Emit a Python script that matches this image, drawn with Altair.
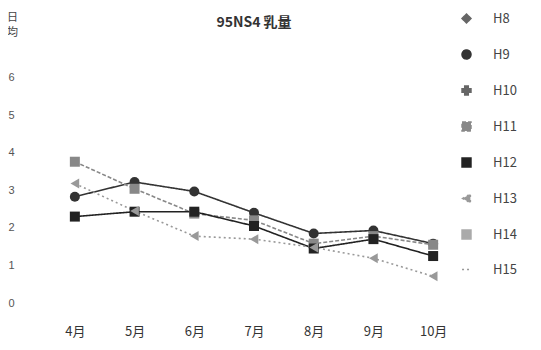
import altair as alt
import pandas as pd

months = ["4月", "5月", "6月", "7月", "8月", "9月", "10月"]
series_names = ["H8", "H9", "H10", "H11", "H12", "H13", "H14", "H15"]
h9 = [2.83, 3.22, 2.97, 2.40, 1.85, 1.93, 1.58]
h11 = [3.76, 3.04, 2.38, 2.20, 1.58, 1.78, 1.55]
h12 = [2.30, 2.43, 2.43, 2.05, 1.45, 1.70, 1.25]
h13 = [3.18, 2.45, 1.78, 1.70, 1.48, 1.19, 0.71]
y_ticks = [0, 1, 2, 3, 4, 5, 6]

rows = []
for name, vals in [("H9", h9), ("H11", h11), ("H12", h12), ("H13", h13)]:
    for m, v in zip(months, vals):
        rows.append({"month": m, "series": name, "value": v})
df = pd.DataFrame(rows)

colors = ["#666666", "#333333", "#666666", "#888888", "#222222", "#999999", "#aaaaaa", "#999999"]
shapes = ["diamond", "circle", "cross", "square", "square", "triangle-left", "square", "stroke"]
dashes = [[1, 0], [1, 0], [1, 0], [4, 2], [1, 0], [2, 3], [1, 0], [2, 3]]

FONT = "Noto Sans CJK JP"

x_enc = alt.X("month:N", sort=months, title=None,
              scale=alt.Scale(type="point", padding=0.5),
              axis=alt.Axis(labelAngle=0, domain=False, ticks=False, grid=False,
                            labelPadding=22, labelFontSize=13, labelColor="#333333",
                            labelFont=FONT))
y_enc = alt.Y("value:Q", scale=alt.Scale(domain=[0, 7], nice=False),
              axis=alt.Axis(values=y_ticks, domain=False, ticks=False, grid=False,
                            labelPadding=31, labelFontSize=11, labelColor="#555555",
                            title=["日", "均"], titleAngle=0, titleX=-33, titleY=-29,
                            titleAlign="center", titleBaseline="top", titleLineHeight=15,
                            titleFontSize=11, titleFontWeight="normal",
                            titleColor="#444444", titleFont=FONT))

color_enc = alt.Color("series:N", scale=alt.Scale(domain=series_names, range=colors),
                      title=None)
shape_enc = alt.Shape("series:N", scale=alt.Scale(domain=series_names, range=shapes),
                      title=None)
dash_enc = alt.StrokeDash("series:N", scale=alt.Scale(domain=series_names, range=dashes),
                          title=None)

lines = alt.Chart(df).mark_line(strokeWidth=1.6).encode(
    x=x_enc, y=y_enc, color=color_enc, strokeDash=dash_enc
)
points = alt.Chart(df).mark_point(size=100, filled=True, opacity=1).encode(
    x=x_enc, y=y_enc, color=color_enc, shape=shape_enc
)

chart = alt.layer(lines, points).properties(
    width=418, height=263,
    title=alt.TitleParams("95NS4 乳量", fontSize=14, font=FONT, fontWeight="bold",
                          color="#333333", offset=16, anchor="middle", dy=35),
    autosize=alt.AutoSizeParams(type="none"),
    padding={"left": 37, "top": 32, "right": 70, "bottom": 39},
).configure_view(stroke=None).configure_legend(
    orient="none", legendX=415, legendY=-28,
    labelFontSize=13, labelColor="#444444", labelFont=FONT,
    rowPadding=21, symbolSize=80, symbolStrokeWidth=1.5, labelOffset=20
)

chart.save("out.html", embed_options={"renderer": "svg", "actions": False})
